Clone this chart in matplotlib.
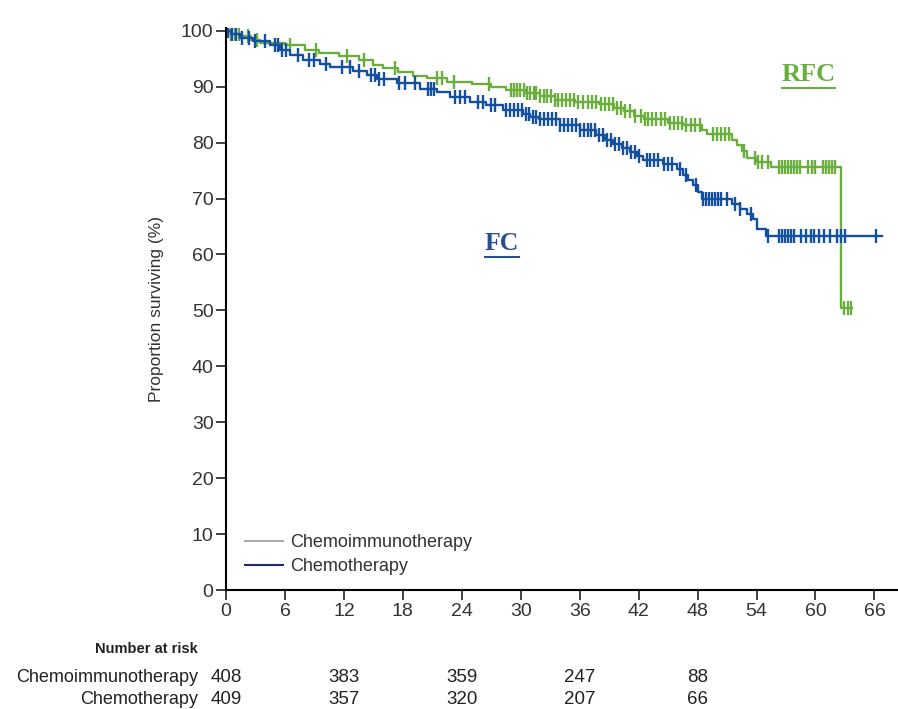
#Kaplan-Meier style survival plot: RFC vs FC
import numpy as np
import matplotlib
matplotlib.use("Agg")
import matplotlib.pyplot as plt
from matplotlib.lines import Line2D
from matplotlib.transforms import blended_transform_factory

plt.rcParams['font.family'] = ['Liberation Sans', 'DejaVu Sans']

#Step curves (months, % surviving after the step)
rfc_t = [0, 0.5, 1.5, 2.5, 3.5, 6.0, 8.0, 9.5, 11.5, 13.5, 15.0, 16.0, 17.5, 19.0, 20.5,
         22.5, 25.0, 27.0, 28.5, 30.5, 32.0, 33.5, 35.5, 38.0, 39.5, 40.5, 41.5, 42.5,
         45.0, 46.5, 48.5, 49.0, 51.5, 52.0, 52.5, 53.0, 54.0, 55.5, 62.6]
rfc_s = [100, 99.5, 99.0, 98.3, 97.9, 97.4, 96.6, 96.0, 95.5, 94.7, 93.9, 93.3, 92.6, 92.0, 91.5,
         90.9, 90.5, 89.9, 89.4, 88.9, 88.3, 87.7, 87.3, 86.9, 86.2, 85.6, 84.8, 84.2,
         83.6, 83.1, 82.2, 81.5, 80.5, 79.5, 78.5, 77.3, 76.5, 75.6, 50.4]
rfc_end = 63.7

fc_t = [0, 0.5, 1.4, 2.7, 4.5, 5.5, 6.5, 7.8, 9.6, 10.6, 12.9, 14.3, 15.4, 17.4, 19.7,
        21.5, 22.8, 24.8, 26.5, 28.2, 30.2, 30.9, 31.9, 34.0, 36.0, 37.7, 38.6, 39.4,
        40.3, 41.1, 41.8, 42.4, 44.5, 45.9, 46.5, 47.0, 47.5, 48.0, 48.5, 51.5, 52.3,
        53.0, 53.6, 54.0, 55.0]
fc_s = [100, 99.4, 98.8, 98.2, 97.5, 96.5, 95.6, 94.8, 94.1, 93.5, 92.9, 92.1, 91.4, 90.7, 89.6,
        89.0, 88.2, 87.3, 86.7, 85.9, 85.2, 84.6, 84.2, 83.2, 82.3, 81.3, 80.5, 79.7,
        79.0, 78.3, 77.6, 76.9, 76.1, 75.2, 74.2, 73.3, 72.4, 71.2, 70.0, 69.0, 68.1,
        67.2, 66.4, 64.6, 63.3]
fc_end = 66.8

#Censoring times (months)
rfc_cens = [0.2, 0.5, 0.9, 1.3, 2.2, 3.2, 6.5, 9.2, 12.3, 14.0, 17.2, 21.5, 22.0, 23.2, 26.8,
            29.0, 29.3, 29.6, 29.9, 30.3, 30.6, 30.9, 31.3, 31.6, 32.0, 32.4, 32.7, 33.1,
            33.5, 33.8, 34.2, 34.6, 35.0, 35.4, 35.8, 36.3, 36.8, 37.3, 37.7, 38.2, 38.6,
            39.0, 39.4, 39.8, 40.2, 40.6, 41.1, 41.6, 42.2, 42.6, 43.0, 43.4, 43.8, 44.3,
            44.7, 45.2, 45.6, 46.0, 46.4, 46.8, 47.3, 47.7, 48.2, 49.6, 50.0, 50.4, 50.8,
            51.2, 52.7, 53.8, 54.2, 54.6, 55.2, 56.3, 56.6, 56.9, 57.2, 57.5, 57.8, 58.1,
            58.4, 59.2, 59.6, 60.0, 60.8, 61.1, 61.4, 61.7, 62.0, 62.9, 63.3, 63.6]
fc_cens = [0.2, 0.6, 1.0, 1.6, 2.3, 3.0, 4.0, 5.0, 5.3, 5.7, 6.1, 7.3, 8.4, 9.0, 10.2, 11.8,
           12.6, 13.5, 14.8, 15.2, 15.6, 16.1, 17.6, 18.2, 19.2, 20.6, 20.9, 21.2, 23.3,
           23.8, 24.3, 25.6, 26.2, 27.0, 27.4, 28.5, 28.9, 29.3, 29.7, 30.1, 30.5, 30.8,
           31.2, 31.6, 32.0, 32.4, 32.8, 33.2, 33.6, 34.0, 34.4, 34.8, 35.2, 35.6, 36.0,
           36.4, 36.8, 37.2, 37.6, 38.0, 38.4, 38.8, 39.2, 39.6, 40.0, 40.4, 40.8, 41.2,
           41.6, 42.0, 42.8, 43.2, 43.6, 44.0, 44.6, 45.0, 45.4, 46.2, 46.8, 47.8, 48.6,
           48.9, 49.2, 49.5, 49.8, 50.1, 50.4, 51.0, 51.8, 52.3, 53.4, 55.2, 56.3, 56.6,
           56.9, 57.2, 57.5, 57.8, 58.5, 59.0, 59.5, 59.9, 60.4, 60.9, 61.5, 62.2, 62.6,
           63.0, 66.2]

#Number at risk
risk_times = [0, 12, 24, 36, 48]
risk_rfc = [408, 383, 359, 247, 88]
risk_fc = [409, 357, 320, 207, 66]

green = "#6aae3e"
blue = "#1450a0"
txt = "#333333"

def surv_at(t_steps, s_steps, t):
    idx = np.searchsorted(t_steps, t, side='right') - 1
    return np.array(s_steps)[idx]

fig = plt.figure(figsize=(8.98, 7.09), dpi=100)
ax = fig.add_axes([0.2517, 0.1678, 0.7483, 0.7927])

for t, s, end, cens, col in [(rfc_t, rfc_s, rfc_end, rfc_cens, green),
                             (fc_t, fc_s, fc_end, fc_cens, blue)]:
    ax.step(t + [end], s + [s[-1]], where='post', color=col, lw=1.7)
    ax.plot(cens, surv_at(t, s, cens), ls='none', marker='|', color=col,
            markersize=10, markeredgewidth=1.7)

ax.set_xlim(0, 68.4)
ax.set_ylim(0, 100.5)
ax.set_xticks(range(0, 67, 6))
ax.set_yticks(range(0, 101, 10))
ax.spines['top'].set_visible(False)
ax.spines['right'].set_visible(False)
ax.spines['left'].set_linewidth(1.5)
ax.spines['bottom'].set_linewidth(1.5)
ax.tick_params(direction='out', length=7, width=1.3, labelsize=14, colors=txt)
ax.tick_params(axis='y', pad=2)
ax.tick_params(axis='x', pad=2)
ax.set_ylabel('Proportion surviving (%)', fontsize=12.5, color=txt, labelpad=12)

handles = [Line2D([], [], color='#999999', lw=1.2), Line2D([], [], color='#1c2a70', lw=1.5)]
ax.legend(handles, ['Chemoimmunotherapy', 'Chemotherapy'], loc='lower left',
          bbox_to_anchor=(0.018, 0.014), borderaxespad=0, frameon=False, fontsize=13,
          handlelength=2.1, handletextpad=0.4, labelspacing=0.38, labelcolor=txt)

ax.text(59.3, 92.2, 'RFC', color=green, fontsize=19, fontweight='bold',
        family='Liberation Serif', ha='center', va='center')
ax.plot([56.6, 62.0], [89.7, 89.7], color=green, lw=1.5, clip_on=False)
ax.text(28.1, 62.0, 'FC', color='#2a4e94', fontsize=18.5, fontweight='bold',
        family='Liberation Serif', ha='center', va='center')
ax.plot([26.4, 29.8], [59.5, 59.5], color='#2a4e94', lw=1.5, clip_on=False)

#Number at risk table
fig.text(0.2205, 0.084, 'Number at risk', fontsize=10.5, fontweight='bold',
         ha='right', va='center', color='#222222')
fig.text(0.2205, 0.045, 'Chemoimmunotherapy', fontsize=13, ha='right', va='center', color='#222222')
fig.text(0.2205, 0.014, 'Chemotherapy', fontsize=13, ha='right', va='center', color='#222222')
trans = blended_transform_factory(ax.transData, fig.transFigure)
for x, a, b in zip(risk_times, risk_rfc, risk_fc):
    ax.text(x, 0.045, str(a), transform=trans, ha='center', va='center', fontsize=13.5, color='#222222')
    ax.text(x, 0.014, str(b), transform=trans, ha='center', va='center', fontsize=13.5, color='#222222')

fig.savefig('out.png', dpi=100)
